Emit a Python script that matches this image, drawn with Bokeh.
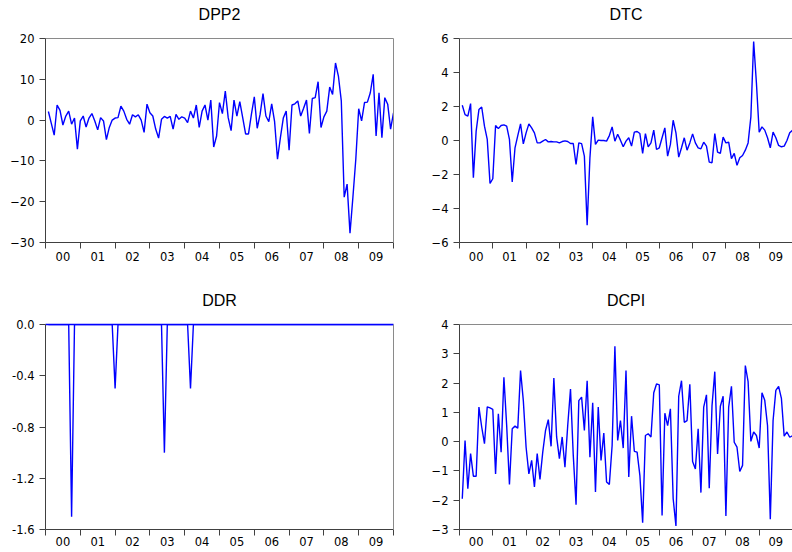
import numpy as np
from bokeh.plotting import figure
from bokeh.layouts import column, row
from bokeh.models import FixedTicker, NumeralTickFormatter, LinearAxis, Range1d
from bokeh.embed import file_html
from bokeh.resources import INLINE

# ---------------- data (monthly, 2000M01 .. 2009M12) ----------------
month_index = list(range(1, 121))
year_labels = ["00", "01", "02", "03", "04", "05", "06", "07", "08", "09"]

dpp2 = [2.1, -0.8, -3.7, 3.7, 2.4, -1.2, 1.0, 2.2, -1.0, 0.5, -7.1, -0.2,
        1.0, -1.7, 0.5, 1.6, -0.2, -2.4, 0.6, -0.2, -4.8, -1.8, 0.0, 0.5,
        0.6, 3.4, 2.2, 0.2, -1.0, 1.3, 0.8, 1.3, 0.0, -3.0, 3.9, 1.8,
        1.0, -2.2, -4.4, 0.2, 0.9, 0.5, 0.9, -2.2, 1.4, 0.2, 0.8, 0.5,
        -0.6, 2.2, 0.5, 3.7, -1.8, 2.2, 3.7, 0.0, 4.9, -6.6, -3.9, 4.3,
        1.6, 7.1, 0.6, -2.6, 4.9, 1.0, 4.5, 0.6, -3.4, -3.4, 1.4, 5.7,
        -2.0, 1.4, 6.5, 1.0, -0.4, 4.0, -0.4, -9.6, -4.3, 0.5, 2.2, -7.4,
        3.7, 4.0, 4.7, 1.0, 2.9, 4.9, -3.3, 5.3, 5.5, 9.4, -1.8, 0.8,
        2.2, 8.1, 6.3, 14.0, 10.8, 4.7, -18.9, -15.7, -27.7, -18.9, -9.6, 2.8,
        -0.2, 4.3, 4.4, 6.7, 11.2, -3.9, 6.7, -4.3, 5.5, 3.9, -2.2, 1.8]

dtc = [2.07, 1.52, 1.43, 2.17, -2.19, 0.55, 1.82, 1.97, 0.84, 0.06, -2.52, -2.25,
       0.88, 0.70, 0.88, 0.92, 0.84, 0.06, -2.44, -0.43, 0.29, 0.98, -0.20, 0.45,
       0.98, 0.74, 0.45, -0.14, -0.14, -0.04, 0.06, -0.08, -0.06, -0.08, -0.08, -0.14,
       -0.06, -0.02, -0.06, -0.18, -0.18, -1.41, -0.14, -0.18, -0.92, -4.98, -1.02, 1.39,
       -0.23, 0.02, 0.00, 0.00, -0.04, 0.29, 0.80, -0.04, 0.37, 0.02, -0.37, -0.04,
       0.16, -0.33, 0.49, 0.53, 0.41, -0.76, 0.41, -0.37, -0.14, 0.61, -0.53, -0.43,
       0.16, 0.74, -0.92, -0.23, 1.19, 0.45, -0.98, -0.43, 0.16, -0.57, -0.14, 0.39,
       -0.14, -0.43, -0.49, -0.10, -0.33, -1.27, -1.31, 0.41, -0.68, -0.76, 0.20, -0.14,
       -0.10, -1.07, -0.76, -1.46, -1.02, -0.88, -0.57, -0.14, 1.39, 5.82, 3.38, 0.49,
       0.80, 0.61, 0.16, -0.43, 0.49, 0.16, -0.29, -0.37, -0.33, 0.00, 0.45, 0.60]

ddr = [0.0] * 120
ddr_months = [9, 24, 41, 50]
ddr_values = [-1.5, -0.5, -1.0, -0.5]
for m, v in zip(ddr_months, ddr_values):
    ddr[m - 1] = v

dcpi = [-1.95, 0.04, -1.61, -0.41, -1.18, -1.18, 1.18, 0.50, -0.07, 1.19, 1.15, 1.10,
        -1.10, 0.95, -0.36, 2.20, 0.55, -1.46, 0.44, 0.53, 0.46, 2.43, 1.40, -0.19,
        -1.10, -0.64, -1.55, -0.41, -1.29, -0.36, 0.38, 0.75, -0.16, 2.17, 0.16, -0.58,
        0.16, -0.87, 0.55, 1.80, -0.47, -2.15, 1.40, 1.52, 0.38, 2.08, -0.53, 1.33,
        -1.72, 1.18, -0.64, 0.29, -1.38, -1.46, -0.13, 3.26, 0.04, 0.72, -0.22, 2.43,
        -1.21, 0.87, -0.33, -0.36, -1.15, -2.77, 0.21, 0.27, 0.16, 1.67, 1.97, 1.94,
        -2.52, 0.97, 0.55, 1.12, -1.95, -2.88, 1.55, 2.08, 0.66, 0.72, 1.96, -0.68,
        -0.93, 0.44, -1.74, 1.18, 1.60, -1.59, 1.23, 2.39, -0.42, 1.21, 1.55, -2.54,
        1.18, 1.89, -0.02, -0.19, -1.02, -0.81, 2.60, 2.05, 0.01, 0.33, 0.21, -0.22,
        1.67, 1.41, 0.55, -2.65, 0.72, 1.75, 1.89, 1.48, 0.19, 0.33, 0.15, 0.20]

dpp2_ticks = [-30, -20, -10, 0, 10, 20]
dtc_ticks = [-6, -4, -2, 0, 2, 4, 6]
ddr_ticks = [-1.6, -1.2, -0.8, -0.4, 0.0]
dcpi_ticks = [-3, -2, -1, 0, 1, 2, 3, 4]

# ---------------- styling / layout ----------------
TICK_FONT = "DejaVu Sans"
TITLE_FONT = "Liberation Sans"
LINE_COLOR = "#0000ff"
AXIS_COLOR = "#404040"
FRAME_COLOR = "#8a8a8a"


def make_panel(title, values, ticks, width, height, b_left, b_right, b_top, b_bottom,
               right_frame=True, top_color=FRAME_COLOR, x_standoff=3, fmt=None):
    y_lo, y_hi = min(ticks), max(ticks)
    p = figure(width=width, height=height,
               x_range=Range1d(0, 120), y_range=Range1d(y_lo, y_hi),
               output_backend="svg", toolbar_location=None,
               min_border_left=b_left, min_border_right=b_right,
               min_border_top=b_top, min_border_bottom=b_bottom)
    p.background_fill_color = "white"
    p.border_fill_color = "white"
    p.outline_line_color = None
    p.xgrid.visible = False
    p.ygrid.visible = False

    p.line(month_index, values, line_color=LINE_COLOR, line_width=1.4)

    # x axis: year boundaries as tick marks, labels centred in each year
    xa = p.xaxis[0]
    xa.ticker = FixedTicker(ticks=[12 * i + 6 for i in range(len(year_labels))],
                            minor_ticks=[12 * i for i in range(len(year_labels) + 1)])
    xa.major_label_overrides = {12 * i + 6: lab for i, lab in enumerate(year_labels)}
    xa.major_tick_out = 0
    xa.major_tick_in = 0
    xa.minor_tick_out = 6
    xa.minor_tick_in = 0
    xa.major_label_standoff = x_standoff
    xa.axis_line_color = AXIS_COLOR
    xa.minor_tick_line_color = AXIS_COLOR
    xa.major_label_text_font = TICK_FONT
    xa.major_label_text_font_size = "11.5px"
    xa.major_label_text_color = "#000000"

    ya = p.yaxis[0]
    ya.ticker = FixedTicker(ticks=ticks, minor_ticks=[])
    ya.major_tick_out = 6
    ya.major_tick_in = 0
    ya.minor_tick_out = 0
    ya.minor_tick_in = 0
    ya.major_label_standoff = 5
    ya.axis_line_color = AXIS_COLOR
    ya.major_tick_line_color = AXIS_COLOR
    ya.major_label_text_font = TICK_FONT
    ya.major_label_text_font_size = "11.5px"
    ya.major_label_text_color = "#000000"
    if fmt is not None:
        ya.formatter = fmt

    # top frame line + centred title, as an axis above the plot
    ta = LinearAxis(ticker=FixedTicker(ticks=[60], minor_ticks=[]),
                    major_label_overrides={60: title})
    ta.axis_line_color = top_color
    ta.axis_line_width = 1.4 if top_color == LINE_COLOR else 1
    ta.major_tick_out = 0
    ta.major_tick_in = 0
    ta.minor_tick_out = 0
    ta.minor_tick_in = 0
    ta.major_label_standoff = 16
    ta.major_label_text_font = TITLE_FONT
    ta.major_label_text_font_size = "16px"
    ta.major_label_text_color = "#000000"
    p.add_layout(ta, "above")

    if right_frame:
        ra = LinearAxis(ticker=FixedTicker(ticks=[], minor_ticks=[]))
        ra.axis_line_color = FRAME_COLOR
        ra.major_tick_out = 0
        ra.major_tick_in = 0
        ra.minor_tick_out = 0
        ra.minor_tick_in = 0
        ra.major_label_standoff = 0
        p.add_layout(ra, "right")
    return p


p1 = make_panel("DPP2", dpp2, dpp2_ticks, 428, 280, 45, 35, 37, 38)
p2 = make_panel("DTC", dtc, dtc_ticks, 364, 280, 21, 0, 38, 37, right_frame=False)
# zero line of DDR lies on the top frame, drawn in the series colour
p3 = make_panel("DDR", ddr, ddr_ticks, 428, 272, 45, 35, 44, 23, top_color=LINE_COLOR,
                x_standoff=1, fmt=NumeralTickFormatter(format="0.0"))
p4 = make_panel("DCPI", dcpi, dcpi_ticks, 364, 272, 21, 0, 44, 23, right_frame=False,
                x_standoff=1)

layout = column(row(p1, p2), row(p3, p4))

with open("out.html", "w") as f:
    f.write(file_html(layout, INLINE))
